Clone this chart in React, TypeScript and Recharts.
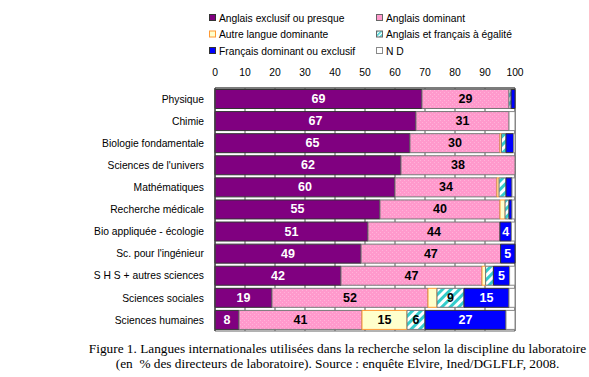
import React from 'react';
import { BarChart, Bar, XAxis, YAxis, CartesianGrid, LabelList, ReferenceArea } from 'recharts';

const categories = [
  'Physique',
  'Chimie',
  'Biologie fondamentale',
  "Sciences de l'univers",
  'Mathématiques',
  'Recherche médicale',
  'Bio appliquée - écologie',
  "Sc. pour l'ingénieur",
  'S H S + autres sciences',
  'Sciences sociales',
  'Sciences humaines',
];

const anglaisExclusif = [69, 67, 65, 62, 60, 55, 51, 48.7, 42, 19, 8];
const anglaisDominant = [29, 31, 30, 38, 34, 40, 44, 46.5, 47, 52, 41];
const autreLangue = [0, 0, 0.5, 0, 0.7, 1.7, 0, 0, 1.2, 3, 15];
const egalite = [0.7, 0, 1.5, 0, 2.3, 1.3, 0, 0, 2.6, 9, 6];
const francais = [1.3, 0, 2.5, 0, 2, 1, 3.8, 4.8, 5.4, 15, 27];
const nonDeclare = [0, 2, 0.5, 0, 1, 1, 1.2, 0, 1.8, 2, 3];

const xTicks = [0, 10, 20, 30, 40, 50, 60, 70, 80, 90, 100];

const data = categories.map((name, i) => ({
  name,
  excl: anglaisExclusif[i],
  dom: anglaisDominant[i],
  autre: autreLangue[i],
  egal: egalite[i],
  fr: francais[i],
  nd: nonDeclare[i],
}));

const legendItems = [
  { label: 'Anglais exclusif ou presque', fill: '#800080', border: '#333', x: 209, y: 18 },
  { label: 'Anglais dominant', fill: '#FF99CC', border: '#666', x: 376, y: 18 },
  { label: 'Autre langue dominante', fill: '#FFFFCC', border: '#FF9933', x: 209, y: 34.5 },
  { label: 'Anglais et français à égalité', fill: 'url(#hatch)', border: '#666', x: 376, y: 34.5, hatch: true },
  { label: 'Français dominant ou exclusif', fill: '#0000FF', border: '#333', x: 209, y: 51 },
  { label: 'N D', fill: '#FFFFFF', border: '#888', x: 376, y: 51 },
];

const makeLabel = (color: string) => (props: any) => {
  const { x, y, width, height, value } = props;
  if (value == null || value < 3.5) return null;
  return (
    <text
      x={x + width / 2}
      y={y + height / 2}
      textAnchor="middle"
      dominantBaseline="central"
      fill={color}
      fontSize={12.5}
      fontWeight="bold"
      fontFamily="Liberation Sans, Arial, sans-serif"
    >
      {Math.round(value)}
    </text>
  );
};

const font = 'Liberation Sans, Arial, sans-serif';

const App: React.FC = () => {
  return (
    <div style={{ position: 'absolute', left: 0, top: 0, width: 589, height: 377, background: '#fff' }}>
      <BarChart
        width={589}
        height={377}
        data={data}
        layout="vertical"
        margin={{ top: 60, right: 74, bottom: 46, left: 0 }}
        barCategoryGap={1.5}
      >
        <defs>
          <pattern id="pinkDots" width="4" height="4" patternUnits="userSpaceOnUse">
            <rect width="4" height="4" fill="#FF99CC" />
            <rect x="0" y="0" width="1" height="1" fill="#FFB3D9" />
            <rect x="2" y="2" width="1" height="1" fill="#FFB3D9" />
          </pattern>
          <pattern id="hatch" width="6" height="6" patternUnits="userSpaceOnUse" patternTransform="rotate(45)">
            <rect width="6" height="6" fill="#FFFFFF" />
            <rect width="3" height="6" fill="#33CCCC" />
          </pattern>
        </defs>
        <CartesianGrid horizontal={false} vertical stroke="#555" />
        <XAxis
          type="number"
          orientation="top"
          domain={[0, 100]}
          ticks={xTicks}
          interval={0}
          height={28}
          tickSize={0}
          tickMargin={12}
          axisLine={{ stroke: '#444' }}
          tickLine={false}
          tick={{ fill: '#000', fontSize: 10.3, fontFamily: font }}
        />
        <YAxis
          type="category"
          dataKey="name"
          width={215}
          tickSize={0}
          tickMargin={11}
          axisLine={{ stroke: '#444' }}
          tickLine={false}
          interval={0}
          tick={{ fill: '#000', fontSize: 10.3, fontFamily: font }}
        />
        <ReferenceArea x1={0} x2={100} fill="none" stroke="#666" strokeWidth={1} ifOverflow="visible" />
        <Bar dataKey="excl" stackId="s" fill="#800080" stroke="#333" strokeWidth={1} isAnimationActive={false}>
          <LabelList dataKey="excl" content={makeLabel('#fff')} />
        </Bar>
        <Bar dataKey="dom" stackId="s" fill="url(#pinkDots)" stroke="#777" strokeWidth={1} isAnimationActive={false}>
          <LabelList dataKey="dom" content={makeLabel('#000')} />
        </Bar>
        <Bar dataKey="autre" stackId="s" fill="#FFFFCC" stroke="#FF9933" strokeWidth={1} isAnimationActive={false}>
          <LabelList dataKey="autre" content={makeLabel('#000')} />
        </Bar>
        <Bar dataKey="egal" stackId="s" fill="url(#hatch)" stroke="#777" strokeWidth={1} isAnimationActive={false}>
          <LabelList dataKey="egal" content={makeLabel('#000')} />
        </Bar>
        <Bar dataKey="fr" stackId="s" fill="#0000FF" stroke="#333" strokeWidth={1} isAnimationActive={false}>
          <LabelList dataKey="fr" content={makeLabel('#fff')} />
        </Bar>
        <Bar dataKey="nd" stackId="s" fill="#FFFFFF" stroke="#888" strokeWidth={1} isAnimationActive={false}>
          <LabelList dataKey="nd" content={makeLabel('#000')} />
        </Bar>
      </BarChart>

      <svg width={589} height={70} style={{ position: 'absolute', left: 0, top: 0 }}>
        <defs>
          <pattern id="hatchLegend" width="3" height="3" patternUnits="userSpaceOnUse" patternTransform="rotate(45)">
            <rect width="3" height="3" fill="#FFFFFF" />
            <rect width="1.5" height="3" fill="#33CCCC" />
          </pattern>
        </defs>
        {legendItems.map((item) => (
          <g key={item.label}>
            <rect
              x={item.x + 0.5}
              y={item.y - 3.5}
              width={6}
              height={6}
              fill={item.hatch ? 'url(#hatchLegend)' : item.fill}
              stroke={item.border}
            />
            <text
              x={item.x + 10}
              y={item.y}
              dominantBaseline="central"
              fontSize={10.3}
              fontFamily={font}
              fill="#000"
            >
              {item.label}
            </text>
          </g>
        ))}
      </svg>

      <div
        style={{
          position: 'absolute',
          left: 80,
          width: 515,
          top: 340.5,
          textAlign: 'center',
          fontFamily: 'Liberation Serif, Times New Roman, serif',
          fontSize: 13.3,
          lineHeight: '15px',
          color: '#000',
          whiteSpace: 'nowrap',
        }}
      >
        Figure 1. Langues internationales utilisées dans la recherche selon la discipline du laboratoire
        <br />
        (en &nbsp;% des directeurs de laboratoire). Source : enquête Elvire, Ined/DGLFLF, 2008.
      </div>
    </div>
  );
};

export default App;
